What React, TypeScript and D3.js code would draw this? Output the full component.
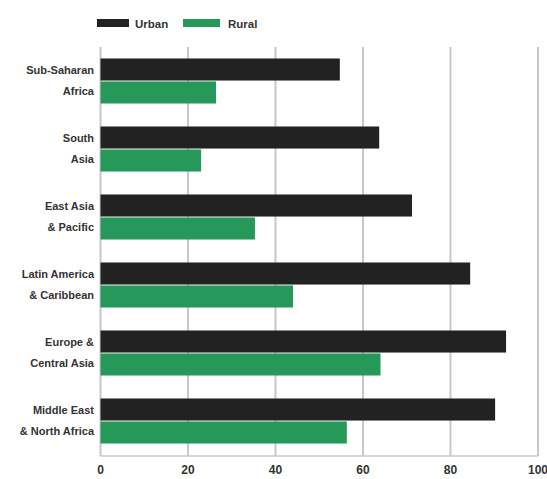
import React from "react";
import * as d3 from "d3";

const regions = [
  ["Sub-Saharan", "Africa"],
  ["South", "Asia"],
  ["East Asia", "& Pacific"],
  ["Latin America", "& Caribbean"],
  ["Europe &", "Central Asia"],
  ["Middle East", "& North Africa"],
];
const regionKeys = regions.map((r) => r.join(" "));
const seriesNames = ["Urban", "Rural"];
const urban = [54.7, 63.7, 71.2, 84.5, 92.7, 90.2];
const rural = [26.4, 23, 35.3, 44, 64, 56.3];
const xTicks = [0, 20, 40, 60, 80, 100];
const colors = ["#222222", "#26985a"];

const W = 547;
const H = 479;
const FONT = "'Liberation Sans', Arial, sans-serif";

export default function App() {
  const x = d3.scaleLinear().domain([0, 100]).range([100.5, 538]);
  const y = d3
    .scaleBand<string>()
    .domain(regionKeys)
    .range([47, 455])
    .paddingInner(0.338)
    .paddingOuter(0.169);
  const inner = d3
    .scaleBand<string>()
    .domain(seriesNames)
    .range([0, y.bandwidth()])
    .paddingInner(0.04);
  const values = [urban, rural];
  const gridTop = 47;
  const gridBottom = 456;
  const labelX = 94;

  return (
    <svg
      width={W}
      height={H}
      style={{ position: "absolute", left: 0, top: 0, background: "#fff" }}
      fontFamily={FONT}
    >
      {/* legend */}
      {seriesNames.map((s, i) => {
        const lx = [97, 183][i];
        const tx = [135, 228][i];
        return (
          <g key={s}>
            <rect x={lx} y={19} width={i === 0 ? 32 : 37} height={8} fill={colors[i]} />
            <text x={tx} y={27.5} fontSize={11.5} fontWeight="bold" fill="#333">
              {s}
            </text>
          </g>
        );
      })}

      {/* vertical grid */}
      {xTicks.map((t) => (
        <line
          key={t}
          x1={x(t)}
          x2={x(t)}
          y1={gridTop}
          y2={gridBottom}
          stroke="#c8c8c8"
          strokeWidth={2}
        />
      ))}
      <line
        x1={x(0)}
        x2={x(100)}
        y1={gridBottom}
        y2={gridBottom}
        stroke="#c8c8c8"
        strokeWidth={1.5}
      />

      {/* bars */}
      {regionKeys.map((k, ri) => (
        <g key={k} transform={`translate(0,${y(k)})`}>
          {seriesNames.map((s, si) => (
            <rect
              key={s}
              x={x(0)}
              y={inner(s)}
              width={x(values[si][ri]) - x(0)}
              height={inner.bandwidth()}
              fill={colors[si]}
            />
          ))}
          <text textAnchor="end" fontSize={11} fontWeight="bold" fill="#333">
            <tspan x={labelX} y={(inner("Urban") as number) + inner.bandwidth() / 2 + 4}>
              {regions[ri][0]}
            </tspan>
            <tspan x={labelX} y={(inner("Rural") as number) + inner.bandwidth() / 2 + 3}>
              {regions[ri][1]}
            </tspan>
          </text>
        </g>
      ))}

      {/* x tick labels */}
      {xTicks.map((t) => (
        <text
          key={t}
          x={x(t)}
          y={474}
          textAnchor="middle"
          fontSize={12}
          fontWeight="bold"
          fill="#333"
        >
          {t}
        </text>
      ))}
    </svg>
  );
}
